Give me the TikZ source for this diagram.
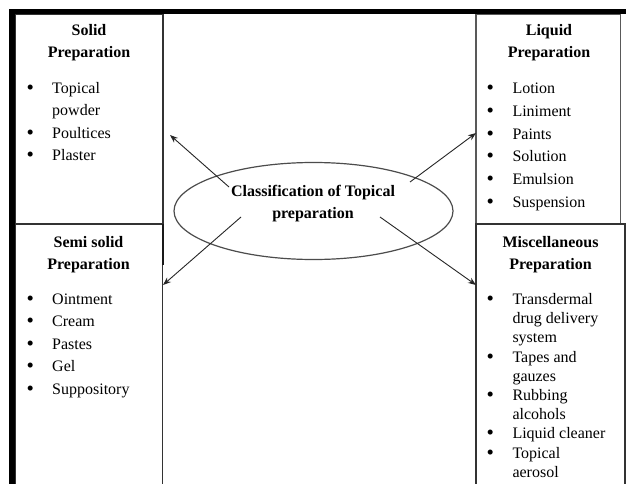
\documentclass[tikz,border=0pt]{standalone}
\usepackage{fontspec}
\setmainfont{Liberation Serif}
\usetikzlibrary{arrows.meta,shapes.geometric}
\newcommand\bigbul{\hspace*{-0.9pt}\raisebox{-1pt}{\fontsize{21}{0}\selectfont\textbullet}}
\newcommand\lbulA{\makebox[24.8pt][l]{\bigbul}}
\newcommand\lspA{\hspace*{24.8pt}}
\newcommand\lbulB{\makebox[25.1pt][l]{\bigbul}}
\newcommand\lspB{\hspace*{25.1pt}}
\begin{document}
\begin{tikzpicture}[x=1pt,y=-1pt,
  box/.style={draw=black!80, line width=1.2pt, inner sep=0pt, outer sep=0pt},
  ttl/.style={font=\fontsize{16}{22}\selectfont\bfseries, anchor=base, inner sep=0pt},
  lst/.style={font=\fontsize{16}{22.4}\selectfont, anchor=base west, inner sep=0pt},
  arr/.style={draw=black!85, line width=0.9pt, -{Stealth[length=8pt,width=6pt]}},
]
\useasboundingbox (0,0) rectangle (626,484);
\clip (0,0) rectangle (626,484);
\fill[white] (0,0) rectangle (626,484);

% boxes
\node[box, minimum width=148pt, minimum height=210pt] (solid) at (89,119) {};
\node[box, minimum width=147.5pt, minimum height=276pt] (semi) at (88.75,362) {};
\node[box, draw=black!65, line width=1.4pt, minimum width=144.5pt, minimum height=210pt] (liquid) at (548.25,119) {};
\node[box, minimum width=149pt, minimum height=276pt] (misc) at (550.5,362) {};
\draw[black!90, line width=2.6pt] (163,224) -- (163,265);

% thick frame
\draw[line width=5.5pt, miter limit=10] (12,484) -- (12,11.5) -- (626,11.5);

% titles
\node[ttl] (tsolid) at (89,36) {\begin{tabular}[t]{@{}c@{}}Solid\\Preparation\end{tabular}};
\node[ttl] (tsemi) at (88.5,247) {\begin{tabular}[t]{@{}c@{}}Semi solid\\Preparation\end{tabular}};
\node[ttl] (tliquid) at (549,36) {\begin{tabular}[t]{@{}c@{}}Liquid\\Preparation\end{tabular}};
\node[ttl] (tmisc) at (550.5,247) {\begin{tabular}[t]{@{}c@{}}Miscellaneous\\Preparation\end{tabular}};

% lists
\node[lst] (lsolid) at (27.2,93.5) {\begin{tabular}[t]{@{}l@{}}
\lbulA Topical\\ \lspA powder\\ \lbulA Poultices\\ \lbulA Plaster\end{tabular}};
\node[lst] (lsemi) at (27.2,304.5) {\begin{tabular}[t]{@{}l@{}}
\lbulA Ointment\\ \lbulA Cream\\ \lbulA Pastes\\ \lbulA Gel\\ \lbulA Suppository\end{tabular}};
\node[lst, font=\fontsize{16}{22.8}\selectfont] (lliquid) at (487.2,93.5) {\begin{tabular}[t]{@{}l@{}}
\lbulB Lotion\\ \lbulB Liniment\\ \lbulB Paints\\ \lbulB Solution\\ \lbulB Emulsion\\ \lbulB Suspension\end{tabular}};
\node[lst, font=\fontsize{16}{19.2}\selectfont] (lmisc) at (487.2,304.5) {\begin{tabular}[t]{@{}l@{}}
\lbulB Transdermal\\ \lspB drug delivery\\ \lspB system\\ \lbulB Tapes and\\ \lspB gauzes\\ \lbulB Rubbing\\ \lspB alcohols\\ \lbulB Liquid cleaner\\ \lbulB Topical\\ \lspB aerosol\end{tabular}};

% centre ellipse
\node[ellipse, draw=black!70, line width=1.2pt, minimum width=279pt, minimum height=97pt, inner sep=0pt] (ell) at (313.5,211) {};
\node[font=\fontsize{16}{21.5}\selectfont\bfseries, anchor=base, inner sep=0pt] (ctitle) at (313,196.5)
  {\begin{tabular}[t]{@{}c@{}}Classification of Topical\\preparation\end{tabular}};

% arrows
\coordinate (s1) at (229,187); \coordinate (t1) at (170,135);
\coordinate (s2) at (241,217); \coordinate (t2) at (163,285);
\coordinate (s3) at (410,182); \coordinate (t3) at (476,133);
\coordinate (s4) at (380,217); \coordinate (t4) at (476,285);
\draw[arr] (s1) -- (t1);
\draw[arr] (s2) -- (t2);
\draw[arr] (s3) -- (t3);
\draw[arr] (s4) -- (t4);
\end{tikzpicture}
\end{document}
